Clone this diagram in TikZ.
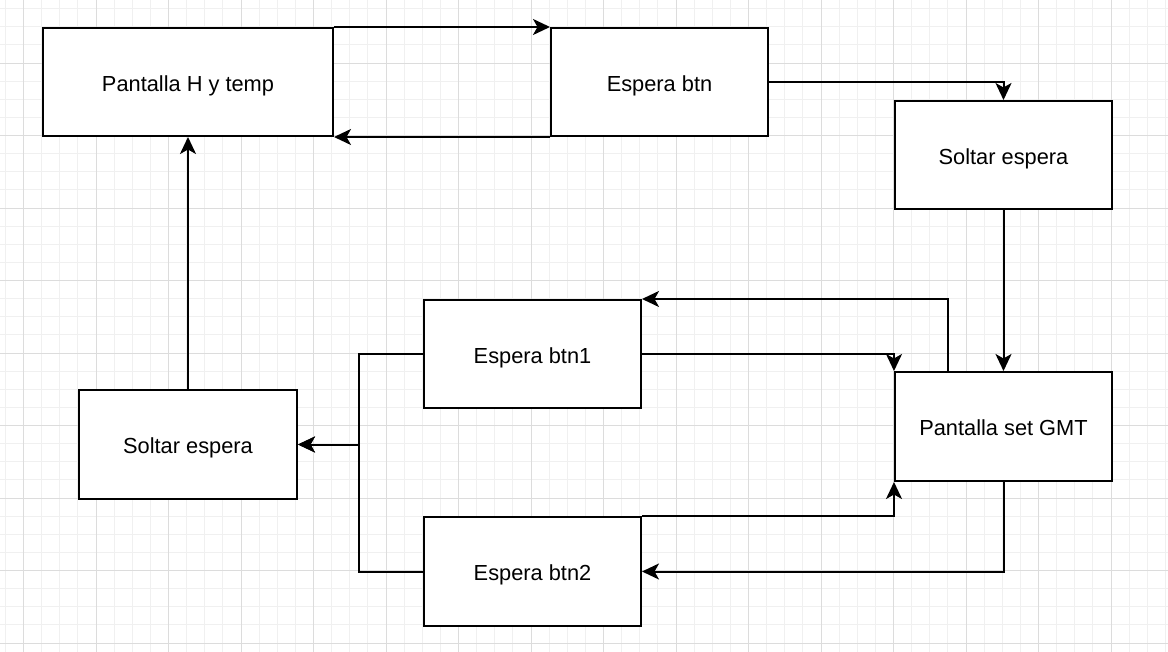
\documentclass[tikz,border=0pt]{standalone}
\usepackage{fontspec}
\setmainfont{Liberation Sans}
\usetikzlibrary{arrows.meta,calc}
\definecolor{gridminor}{HTML}{F0F0F0}
\definecolor{gridmajor}{HTML}{DCDCDC}
\tikzset{
  box/.style={draw=black, line width=2pt, fill=white, minimum width=217pt, minimum height=108pt, inner sep=0pt,
    font=\fontsize{21.8}{26}\selectfont, text depth=0pt, text height=18.5pt},
  conn/.style={draw=black, line width=2pt, -{Stealth[length=17pt,width=16pt,inset=4.5pt]}},
}
\begin{document}
\begin{tikzpicture}[x=1pt,y=-1pt]
\useasboundingbox (0,0) rectangle (1168,652);
\fill[white] (0,0) rectangle (1168,652);
% grid
\foreach \i in {0,...,64} {
  \draw[gridminor, line width=0.8pt] ({5.375+18.125*\i},0) -- ({5.375+18.125*\i},652);
}
\foreach \i in {0,...,36} {
  \draw[gridminor, line width=0.8pt] (0,{8.625+18.125*\i}) -- (1168,{8.625+18.125*\i});
}
\foreach \i in {0,...,16} {
  \draw[gridmajor, line width=0.8pt] ({23.5+72.5*\i},0) -- ({23.5+72.5*\i},652);
}
\foreach \i in {-1,...,9} {
  \draw[gridmajor, line width=0.8pt] (0,{63+72.5*\i}) -- (1168,{63+72.5*\i});
}
% nodes
\node[box, minimum width=290pt] (A) at (188,82) {Pantalla H y temp};
\node[box] (B) at (659.5,82) {Espera btn};
\node[box] (C) at (1003.5,155) {Soltar espera};
\node[box] (D) at (532.5,354) {Espera btn1};
\node[box, minimum height=109pt] (E) at (1003.5,426.5) {Pantalla set GMT};
\node[box, minimum width=218pt, minimum height=109pt] (F) at (188,444.5) {Soltar espera};
\node[box, minimum height=109pt] (G) at (532.5,571.5) {Espera btn2};
\coordinate (Etop) at ($(E.north west)+(54,0)$);
\coordinate (J1) at ($(D.west)+(-64,0)$);
\coordinate (J2) at ($(G.west)+(-64,0)$);
% connectors
\draw[conn] (A.north east) -- (B.north west);
\draw[conn] (B.south west) -- (A.south east);
\draw[conn] (B.east) -| (C.north);
\draw[conn] (C.south) -- (E.north);
\draw[conn] (Etop) |- (D.north east);
\draw[conn] (D.east) -| (E.north west);
\draw[conn] (G.north east) -| (E.south west);
\draw[conn] (E.south) |- (G.east);
\draw[conn] (D.west) -- (J1) |- (F.east);
\draw[conn] (G.west) -- (J2) |- (F.east);
\draw[conn] (F.north) -- (A.south);
\end{tikzpicture}
\end{document}
